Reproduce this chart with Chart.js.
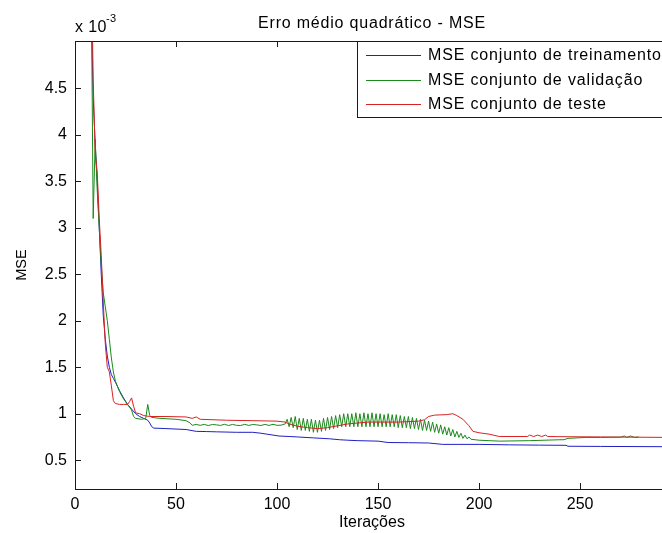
<!DOCTYPE html>
<html>
<head>
<meta charset="utf-8">
<title>Erro médio quadrático - MSE</title>
<script src="https://cdn.jsdelivr.net/npm/chart.js@4/dist/chart.umd.min.js"></script>
<style>
  html, body { margin: 0; padding: 0; background: #fff; overflow: hidden; }
  #wrap { width: 662px; height: 533px; overflow: hidden; }
</style>
</head>
<body>
<div id="wrap"><canvas id="mseChart" width="700" height="533"></canvas></div>
<script>
// valores MSE em unidades de 10^-3
const iterTrain = [1, 4, 7, 8, 9, 10, 11, 12, 13, 14, 15, 16, 17, 18, 19, 20, 22, 24, 26, 28, 30, 32, 34, 36, 37, 38, 39, 45, 50, 55, 60, 65, 70, 80, 88, 92, 95, 101, 106, 110, 118, 126, 131, 135, 140, 150, 155, 165, 175, 182, 190, 200, 215, 230, 243, 244, 260, 294];
const mseTrain = [40, 14, 6.2, 5.4, 4.4, 3.9, 3.5, 3.0, 2.5, 2.05, 1.8, 1.62, 1.5, 1.42, 1.38, 1.34, 1.25, 1.17, 1.1, 1.05, 1.0, 0.97, 0.95, 0.93, 0.9, 0.86, 0.845, 0.84, 0.835, 0.83, 0.81, 0.808, 0.805, 0.8, 0.8, 0.79, 0.78, 0.76, 0.755, 0.75, 0.74, 0.73, 0.72, 0.715, 0.71, 0.705, 0.69, 0.688, 0.685, 0.67, 0.67, 0.67, 0.665, 0.662, 0.66, 0.65, 0.648, 0.645];

const iterVal = [1, 4, 7, 8, 9, 10, 11, 12, 13, 14, 15, 16, 17, 18, 19, 20, 22, 24, 26, 28, 29, 30, 33, 35, 36, 37, 38, 42, 50, 55, 57, 58, 60, 62, 64, 66, 68, 70, 72, 74, 76, 78, 80, 82, 84, 86, 88, 90, 92, 94, 96, 98, 100, 102, 104,
  105, 106, 107, 108, 109, 110, 111, 112, 113, 114, 115, 116, 117, 118, 119, 120, 121, 122, 123, 124, 125, 126, 127, 128, 129, 130,
  131, 132, 133, 134, 135, 136, 137, 138, 139, 140, 141, 142, 143, 144, 145, 146, 147, 148, 149, 150, 151, 152, 153, 154, 155, 156, 157, 158, 159, 160,
  161, 162, 163, 164, 165, 166, 167, 168, 169, 170, 171, 172, 173, 174, 175, 176, 177, 178, 179, 180, 181, 182, 183, 184, 185, 186, 187, 188, 189, 190,
  191, 192, 193, 194, 195, 196, 198, 200, 205, 210, 225, 240, 242, 244, 253, 260, 270, 272, 273, 275, 277, 279];
const mseVal = [42, 15, 6.5, 5.8, 3.1, 3.95, 3.4, 3.0, 2.6, 2.3, 2.15, 2.0, 1.8, 1.6, 1.45, 1.35, 1.24, 1.16, 1.1, 1.04, 0.97, 0.95, 0.94, 0.95, 1.1, 0.98, 0.96, 0.95, 0.94, 0.925, 0.9, 0.875, 0.885, 0.875, 0.885, 0.872, 0.884, 0.88, 0.874, 0.886, 0.873, 0.885, 0.875, 0.873, 0.886, 0.874, 0.884, 0.88, 0.873, 0.885, 0.874, 0.886, 0.875, 0.877, 0.89,
  0.94, 0.86, 0.96, 0.85, 0.97, 0.83, 0.95, 0.82, 0.95, 0.82, 0.94, 0.81, 0.94, 0.8, 0.93, 0.8, 0.93, 0.81, 0.95, 0.82, 0.96, 0.83, 0.97, 0.84, 0.98, 0.85,
  0.99, 0.86, 1.0, 0.86, 1.0, 0.86, 1.0, 0.86, 1.01, 0.86, 1.0, 0.86, 1.01, 0.86, 1.0, 0.86, 1.01, 0.86, 1.0, 0.86, 1.0, 0.86, 0.99, 0.86, 1.0, 0.86, 0.99, 0.86, 0.99, 0.85,
  0.98, 0.85, 0.97, 0.85, 0.97, 0.84, 0.96, 0.84, 0.95, 0.83, 0.94, 0.82, 0.93, 0.82, 0.92, 0.81, 0.91, 0.8, 0.89, 0.79, 0.88, 0.78, 0.86, 0.77, 0.85, 0.76, 0.83, 0.75, 0.81, 0.745,
  0.79, 0.735, 0.77, 0.73, 0.75, 0.725, 0.72, 0.715, 0.71, 0.705, 0.71, 0.72, 0.72, 0.735, 0.745, 0.745, 0.748, 0.76, 0.745, 0.76, 0.745, 0.75];

const iterTest = [1, 4, 7, 8, 9, 10, 11, 12, 13, 14, 15, 16, 17, 18, 19, 20, 22, 24, 26, 27, 28, 29, 30, 32, 34, 37, 45, 55, 58, 60, 62, 75, 88, 100, 104, 106, 110, 115, 120, 125, 130, 135, 140, 145, 160, 170, 173, 175, 178, 184, 187, 189, 192, 195, 197, 200, 205, 210, 224, 225, 227, 229, 231, 233, 234, 239, 260, 294];
const mseTest = [45, 16, 6.8, 6.0, 4.6, 3.8, 3.6, 3.1, 2.7, 2.2, 1.75, 1.5, 1.45, 1.3, 1.14, 1.11, 1.1, 1.1, 1.1, 1.13, 1.17, 1.08, 1.01, 1.0, 0.98, 0.97, 0.97, 0.965, 0.95, 0.965, 0.94, 0.93, 0.925, 0.92, 0.91, 0.89, 0.865, 0.85, 0.84, 0.85, 0.87, 0.89, 0.9, 0.91, 0.91, 0.92, 0.935, 0.97, 0.985, 0.99, 1.0, 0.98, 0.94, 0.87, 0.81, 0.795, 0.78, 0.755, 0.755, 0.77, 0.755, 0.77, 0.755, 0.77, 0.755, 0.753, 0.75, 0.745];

const seriesLabels = ['MSE conjunto de treinamento', 'MSE conjunto de validação', 'MSE conjunto de teste'];
const seriesColors = ['#1f1fc4', '#1a8a1a', '#d82222'];
const xTickValues = [0, 50, 100, 150, 200, 250];
const yTickValues = [0.5, 1, 1.5, 2, 2.5, 3, 3.5, 4, 4.5];
const xRange = [0, 294];
const yRange = [0.19, 5.01];
const chartTitle = 'Erro médio quadrático - MSE';
const xTitle = 'Iterações';
const yTitle = 'MSE';

const FONT = "'Liberation Sans', Arial, sans-serif";

function toPoints(xs, ys) {
    return xs.map((x, i) => ({ x: x, y: ys[i] }));
}

// moldura estilo Matlab: caixa, ticks para dentro, título, expoente e legenda
const matlabFrame = {
    id: 'matlabFrame',
    afterDraw(chart) {
        const ctx = chart.ctx;
        const a = chart.chartArea;
        const xs = chart.scales.x;
        const ys = chart.scales.y;
        ctx.save();
        ctx.strokeStyle = '#1a1a1a';
        ctx.lineWidth = 1;
        ctx.strokeRect(a.left + 0.5, a.top + 0.5, a.right - a.left - 1, a.bottom - a.top);

        ctx.beginPath();
        xs.ticks.forEach(t => {
            const px = Math.round(xs.getPixelForValue(t.value)) + 0.5;
            ctx.moveTo(px, a.bottom); ctx.lineTo(px, a.bottom - 6);
            ctx.moveTo(px, a.top); ctx.lineTo(px, a.top + 6);
        });
        ys.ticks.forEach(t => {
            const py = Math.round(ys.getPixelForValue(t.value)) + 0.5;
            ctx.moveTo(a.left, py); ctx.lineTo(a.left + 6, py);
            ctx.moveTo(a.right, py); ctx.lineTo(a.right - 6, py);
        });
        ctx.stroke();

        // título
        ctx.fillStyle = '#000';
        ctx.textBaseline = 'middle';
        ctx.textAlign = 'center';
        ctx.font = '16px ' + FONT;
        ctx.letterSpacing = '0.8px';
        ctx.fillText(chartTitle, (a.left + a.right) / 2, 24);

        // x 10^-3
        ctx.textAlign = 'left';
        ctx.letterSpacing = '0.4px';
        ctx.fillText('x 10', a.left, 28);
        ctx.font = '11px ' + FONT;
        ctx.fillText('-3', a.left + 31, 19);

        // legenda
        const lx = 357, ly = a.top, lw = 310, lh = 76;
        ctx.fillStyle = '#fff';
        ctx.fillRect(lx, ly, lw, lh);
        ctx.strokeStyle = '#1a1a1a';
        ctx.strokeRect(lx + 0.5, ly + 0.5, lw, lh);
        const rows = [55, 80, 104];
        ctx.font = '16px ' + FONT;
        ctx.letterSpacing = '0.85px';
        seriesLabels.forEach((lab, i) => {
            ctx.strokeStyle = seriesColors[i];
            ctx.beginPath();
            ctx.moveTo(366, rows[i] + 0.5);
            ctx.lineTo(421, rows[i] + 0.5);
            ctx.stroke();
            ctx.fillStyle = '#000';
            ctx.fillText(lab, 428, rows[i] + 1);
        });
        ctx.letterSpacing = '0px';
        ctx.restore();
    }
};

const ctx = document.getElementById('mseChart').getContext('2d');
const allSeries = [
    toPoints(iterTrain, mseTrain),
    toPoints(iterVal, mseVal),
    toPoints(iterTest, mseTest)
];

new Chart(ctx, {
    type: 'line',
    data: {
        datasets: allSeries.map((pts, i) => ({
            label: seriesLabels[i],
            data: pts,
            borderColor: seriesColors[i],
            backgroundColor: seriesColors[i],
            borderWidth: 1,
            pointRadius: 0,
            tension: 0,
            fill: false,
            order: 3 - i
        }))
    },
    options: {
        responsive: false,
        animation: false,
        devicePixelRatio: 1,
        layout: { padding: { left: 0, top: 41, right: 31, bottom: 0 } },
        plugins: {
            legend: { display: false },
            tooltip: { enabled: false },
            title: { display: false }
        },
        scales: {
            x: {
                type: 'linear',
                min: xRange[0],
                max: xRange[1],
                afterBuildTicks: s => { s.ticks = xTickValues.map(v => ({ value: v })); },
                afterFit: s => { s.height = 44; },
                grid: { display: false, drawTicks: false },
                border: { display: false },
                ticks: {
                    padding: 6,
                    color: '#000',
                    font: { family: FONT, size: 16 },
                    maxRotation: 0,
                    callback: v => String(v)
                },
                title: {
                    display: true,
                    text: xTitle,
                    color: '#000',
                    font: { family: FONT, size: 16 },
                    padding: { top: 0, bottom: 1 }
                }
            },
            y: {
                type: 'linear',
                min: yRange[0],
                max: yRange[1],
                afterBuildTicks: s => { s.ticks = yTickValues.map(v => ({ value: v })); },
                afterFit: s => { s.width = 75; },
                grid: { display: false, drawTicks: false },
                border: { display: false },
                ticks: {
                    padding: 8,
                    color: '#000',
                    font: { family: FONT, size: 16 },
                    callback: v => String(v)
                },
                title: {
                    display: true,
                    text: yTitle,
                    color: '#000',
                    font: { family: FONT, size: 14.5 },
                    padding: { top: 13, bottom: 0 }
                }
            }
        }
    },
    plugins: [matlabFrame]
});
</script>
</body>
</html>
